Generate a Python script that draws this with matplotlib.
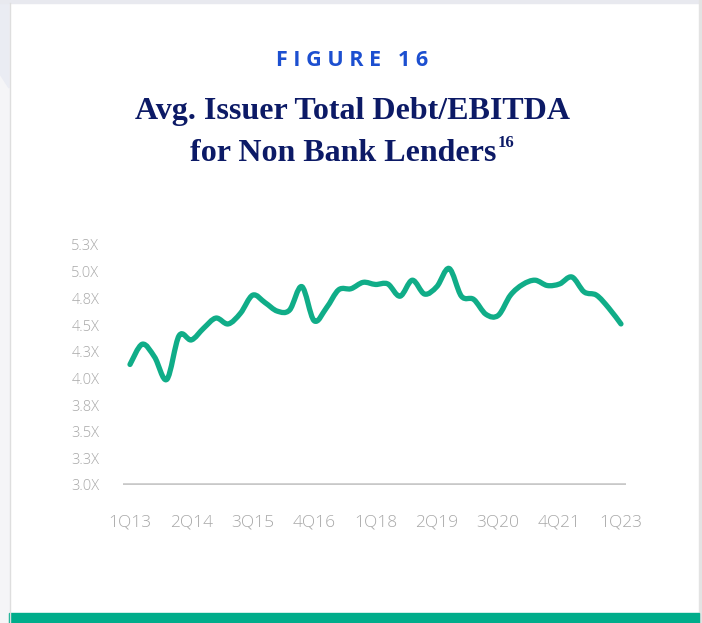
import numpy as np
import matplotlib
matplotlib.use("Agg")
import matplotlib.pyplot as plt
from matplotlib.path import Path
from matplotlib.patches import PathPatch, Rectangle, Polygon
from matplotlib.lines import Line2D

# ---------------------------------------------------------------
# data: avg. issuer total debt / EBITDA, quarterly 1Q13 .. 1Q23
leverage = [4.13, 4.32, 4.20, 3.99, 4.40, 4.36, 4.47, 4.565, 4.51, 4.61,
            4.78, 4.71, 4.63, 4.64, 4.86, 4.54, 4.66, 4.83, 4.84, 4.90,
            4.88, 4.885, 4.77, 4.92, 4.79, 4.86, 5.03, 4.77, 4.74, 4.60,
            4.59, 4.78, 4.88, 4.92, 4.87, 4.885, 4.95, 4.81, 4.78, 4.66,
            4.51]
x_tick_pos = [0, 5, 10, 15, 20, 25, 30, 35, 40]
x_tick_labels = ["1Q13", "2Q14", "3Q15", "4Q16", "1Q18", "2Q19", "3Q20", "4Q21", "1Q23"]
y_tick_pos = [3.0, 3.25, 3.5, 3.75, 4.0, 4.25, 4.5, 4.75, 5.0, 5.25]
y_tick_labels = ["3.0X", "3.3X", "3.5X", "3.8X", "4.0X", "4.3X", "4.5X", "4.8X", "5.0X", "5.3X"]

TEAL = "#10ad88"
NAVY = "#0c1a66"
BLUE = "#1c4fd0"
GREY = "#a8a8a8"

W, H = 702, 623
fig = plt.figure(figsize=(W / 100, H / 100), dpi=100, facecolor="white")


def fpx(x, y):
    # pixel position -> figure fraction
    return x / W, 1 - y / H


# ---------------------------------------------------------------
# card frame around the chart
fig.patches.append(Rectangle(fpx(0, H), 9 / W, 1, transform=fig.transFigure,
                             color="#f5f5f7", zorder=0))
fig.patches.append(Polygon([fpx(0, 0), fpx(9, 0), fpx(9, 88), fpx(0, 74)],
                           closed=True, transform=fig.transFigure,
                           color="#eaecf3", zorder=0))
fig.patches.append(Rectangle(fpx(0, 2.5), 1, 2.5 / H, transform=fig.transFigure,
                             color="#e8e9ef", zorder=0))
fig.patches.append(Rectangle(fpx(699, H), 3 / W, 1, transform=fig.transFigure,
                             color="#e3e3e3", zorder=0))
fig.lines.append(Line2D([9.5 / W, 9.5 / W], [0, 1 - 2.5 / H], transform=fig.transFigure,
                        color="#dedede", lw=1))
fig.patches.append(Rectangle(fpx(9, H), 690 / W, 10 / H, transform=fig.transFigure,
                             color="#00ad8b", zorder=1))

# ---------------------------------------------------------------
# headings
fig.text(352 / W, 1 - 61 / H, "F I G U R E   1 6", ha="center", va="center",
         fontsize=15.5, fontweight="bold", color=BLUE, family="Open Sans")
fig.text(353 / W, 1 - 112 / H, "Avg. Issuer Total Debt/EBITDA", ha="center",
         va="center", fontsize=23, fontweight="bold", color=NAVY,
         family="Liberation Serif")
line2 = fig.text(343 / W, 1 - 154 / H, "for Non Bank Lenders", ha="center",
                 va="center", fontsize=23, fontweight="bold", color=NAVY,
                 family="Liberation Serif")
fig.canvas.draw()
bb = line2.get_window_extent()
fig.text(bb.x1 / W + 0.002, 1 - 143 / H, "16", ha="left", va="center",
         fontsize=12, fontweight="bold", color=NAVY, family="Liberation Serif")

# ---------------------------------------------------------------
# line chart
ax = fig.add_axes([123 / W, (H - 485) / H, 503 / W, 240 / H])
ax.set_xlim(-0.57, 40.41)
ax.set_ylim(3.0, 5.25)
for s in ax.spines.values():
    s.set_visible(False)
ax.axhline(3.0, color="#c8c8c8", lw=2.6, zorder=1)

x = np.arange(len(leverage), dtype=float)
y = np.array(leverage)
pts = np.column_stack([x, y])

# smooth curve through the points (cardinal spline as cubic bezier segments)
verts = [pts[0]]
codes = [Path.MOVETO]
t = 1 / 6
n = len(pts)
for i in range(n - 1):
    p_prev = pts[max(i - 1, 0)]
    p0 = pts[i]
    p1 = pts[i + 1]
    p_next = pts[min(i + 2, n - 1)]
    c1 = p0 + (p1 - p_prev) * t
    c2 = p1 - (p_next - p0) * t
    verts += [c1, c2, p1]
    codes += [Path.CURVE4] * 3
curve = PathPatch(Path(verts, codes), facecolor="none", edgecolor=TEAL, lw=3.8,
                  capstyle="round", joinstyle="round", clip_on=False, zorder=3)
ax.add_patch(curve)

ax.set_xticks(x_tick_pos)
ax.set_xticklabels(x_tick_labels)
ax.set_yticks(y_tick_pos)
ax.set_yticklabels(y_tick_labels)
ax.tick_params(axis="x", length=0, pad=21, labelsize=12.5, labelcolor=GREY)
ax.tick_params(axis="y", length=0, pad=17, labelsize=10.5, labelcolor=GREY)
for lab in ax.get_xticklabels() + ax.get_yticklabels():
    lab.set_family("Open Sans")
    lab.set_fontweight("light")

fig.savefig("out.png", dpi=100, facecolor="white")
